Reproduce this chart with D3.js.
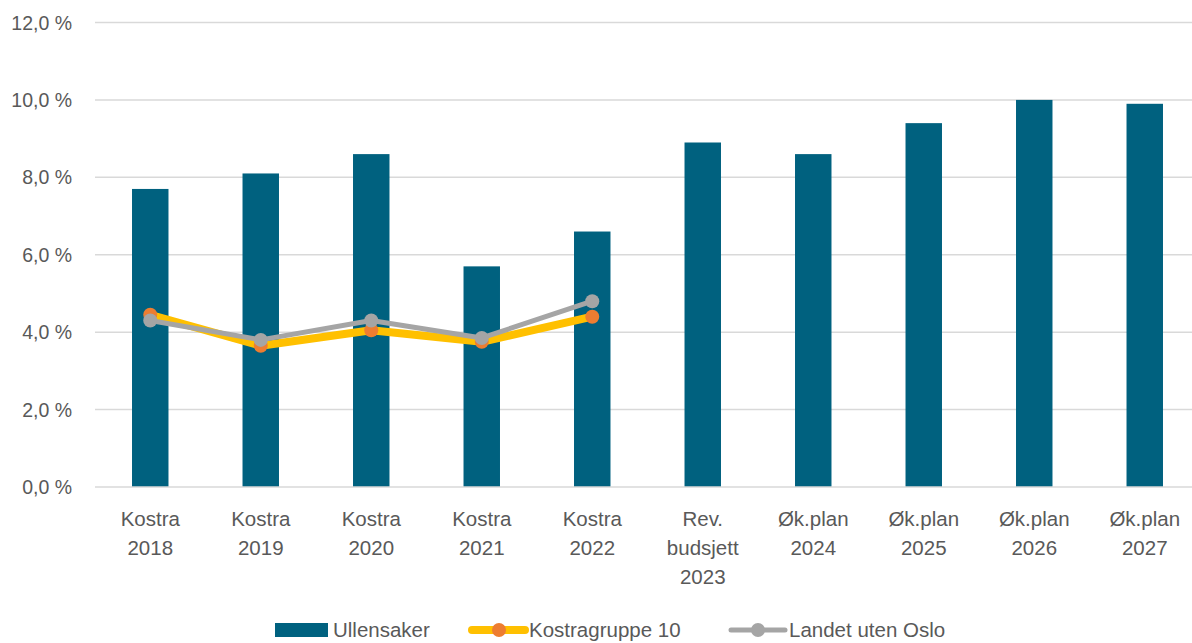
<!DOCTYPE html>
<html>
<head>
<meta charset="utf-8">
<script src="https://cdn.jsdelivr.net/npm/d3@7"></script>
<style>
    body { margin: 0; background: #fff; }
    text { font-family: "Liberation Sans", Arial, sans-serif; fill: #595959; }
</style>
</head>
<body>
<div id="chart"></div>
<script>
    var width = 1192
    var height = 643

    // data
    var categories = [
        ['Kostra', '2018'], ['Kostra', '2019'], ['Kostra', '2020'],
        ['Kostra', '2021'], ['Kostra', '2022'], ['Rev.', 'budsjett', '2023'],
        ['Øk.plan', '2024'], ['Øk.plan', '2025'], ['Øk.plan', '2026'], ['Øk.plan', '2027']
    ]
    var ullensaker = [7.7, 8.1, 8.6, 5.7, 6.6, 8.9, 8.6, 9.4, 10.0, 9.9]
    var kostragruppe10 = [4.45, 3.65, 4.05, 3.75, 4.4]
    var landetUtenOslo = [4.3, 3.8, 4.3, 3.85, 4.8]
    var yTicks = [0, 2, 4, 6, 8, 10, 12]

    var barColor = '#00617f'
    var orange = '#ffc000'
    var orangeMarker = '#ed7d31'
    var grey = '#a5a5a5'

    var svg = d3.select('#chart').append('svg')
        .attr('width', width)
        .attr('height', height)

    var x = d3.scaleBand()
        .domain(d3.range(categories.length))
        .range([95, 1200])
        .paddingInner(0.67)
        .paddingOuter(0.335)

    var y = d3.scaleLinear()
        .domain([0, 12])
        .range([487, 22.5])

    // gridlines
    svg.append('g').selectAll('line')
        .data(yTicks.filter(function(d) { return d > 0 }))
        .enter().append('line')
        .attr('x1', 95).attr('x2', width)
        .attr('y1', function(d) { return y(d) })
        .attr('y2', function(d) { return y(d) })
        .attr('stroke', '#d9d9d9')
        .attr('stroke-width', 1.5)

    // y labels
    svg.append('g').selectAll('text')
        .data(yTicks)
        .enter().append('text')
        .attr('x', 72)
        .attr('y', function(d) { return y(d) + 7 })
        .attr('text-anchor', 'end')
        .style('font-size', '19.5px')
        .text(function(d) { return d3.format('.1f')(d).replace('.', ',') + ' %' })

    // bars
    svg.append('g').selectAll('rect')
        .data(ullensaker)
        .enter().append('rect')
        .attr('x', function(d, i) { return x(i) })
        .attr('width', x.bandwidth())
        .attr('y', function(d) { return y(d) })
        .attr('height', function(d) { return y(0) - y(d) })
        .attr('fill', barColor)

    // x axis line
    svg.append('line')
        .attr('x1', 95).attr('x2', width)
        .attr('y1', y(0)).attr('y2', y(0))
        .attr('stroke', '#d9d9d9')
        .attr('stroke-width', 1.5)

    // x labels
    var xl = svg.append('g').selectAll('text')
        .data(categories)
        .enter().append('text')
        .attr('text-anchor', 'middle')
        .style('font-size', '20.5px')
        .attr('transform', function(d, i) {
            return 'translate(' + (x(i) + x.bandwidth() / 2) + ',0)' })

    xl.selectAll('tspan')
        .data(function(d) { return d })
        .enter().append('tspan')
        .attr('x', 0)
        .attr('y', function(d, i) { return 526 + i * 29 })
        .text(function(d) { return d })

    var line = d3.line()
        .x(function(d, i) { return x(i) + x.bandwidth() / 2 })
        .y(function(d) { return y(d) })

    function drawSeries(values, stroke, sw, marker) {
        var g = svg.append('g')
        g.append('path')
            .datum(values)
            .attr('d', line)
            .attr('fill', 'none')
            .attr('stroke', stroke)
            .attr('stroke-width', sw)
            .attr('stroke-linejoin', 'round')
            .attr('stroke-linecap', 'round')
        g.selectAll('circle')
            .data(values)
            .enter().append('circle')
            .attr('cx', function(d, i) { return x(i) + x.bandwidth() / 2 })
            .attr('cy', function(d) { return y(d) })
            .attr('r', 7)
            .attr('fill', marker)
    }

    drawSeries(kostragruppe10, orange, 8, orangeMarker)
    drawSeries(landetUtenOslo, grey, 5, grey)

    // legend
    var legend = svg.append('g')
    var ly = 630

    legend.append('rect')
        .attr('x', 275).attr('y', ly - 7)
        .attr('width', 53).attr('height', 14)
        .attr('fill', barColor)
    legend.append('text')
        .attr('x', 333).attr('y', ly + 7)
        .style('font-size', '20.5px')
        .text('Ullensaker')

    legend.append('line')
        .attr('x1', 472).attr('x2', 525)
        .attr('y1', ly).attr('y2', ly)
        .attr('stroke', orange).attr('stroke-width', 8)
        .attr('stroke-linecap', 'round')
    legend.append('circle')
        .attr('cx', 499).attr('cy', ly).attr('r', 7)
        .attr('fill', orangeMarker)
    legend.append('text')
        .attr('x', 529).attr('y', ly + 7)
        .style('font-size', '20.5px')
        .text('Kostragruppe 10')

    legend.append('line')
        .attr('x1', 731).attr('x2', 785)
        .attr('y1', ly).attr('y2', ly)
        .attr('stroke', grey).attr('stroke-width', 5)
        .attr('stroke-linecap', 'round')
    legend.append('circle')
        .attr('cx', 758).attr('cy', ly).attr('r', 7)
        .attr('fill', grey)
    legend.append('text')
        .attr('x', 789).attr('y', ly + 7)
        .style('font-size', '20.5px')
        .text('Landet uten Oslo')
</script>
</body>
</html>
